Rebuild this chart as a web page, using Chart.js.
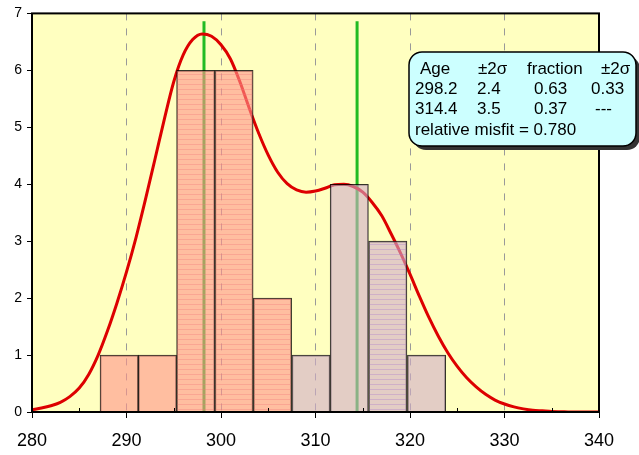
<!DOCTYPE html>
<html>
<head>
<meta charset="utf-8">
<script src="https://cdn.jsdelivr.net/npm/chart.js@4.4.0/dist/chart.umd.min.js"></script>
<style>
  html, body { margin: 0; padding: 0; background: #fff; }
  #wrap { width: 639px; height: 455px; }
</style>
</head>
<body>
<div id="wrap"><canvas id="myChart" width="639" height="455"></canvas></div>
<script>
// histogram bins (lower edges + last upper edge) and counts
var binEdges = [287.2, 291.25, 295.3, 299.35, 303.4, 307.5, 311.55, 315.6, 319.7, 323.8];
var binCounts = [1, 1, 6, 6, 2, 1, 4, 3, 1];
// which component each bar belongs to (0 = first, 1 = second)
var binGroup = [0, 0, 0, 0, 0, 1, 1, 1, 1];
var binHatched = [false, false, true, true, true, false, false, true, false];

// probability density curve
var curveX = [280,281,282,283,284,285,286,287,288,289,290,291,292,293,294,295,296,297,298,299,
              300,301,302,303,304,305,306,307,308,309,310,311,312,313,314,315,316,317,318,319,
              320,321,322,323,324,325,326,327,328,329,330,331,332,333,334,335,336,337,338,339,340];
var curveY = [0.04,0.07,0.11,0.17,0.27,0.42,0.66,1.0,1.43,1.92,2.46,3.06,3.73,4.43,5.14,5.8,6.27,6.54,6.64,6.6,
              6.45,6.2,5.8,5.33,4.89,4.51,4.21,4.01,3.9,3.86,3.88,3.93,3.99,4.0,3.96,3.86,3.68,3.45,3.13,2.79,
              2.42,2.03,1.66,1.33,1.04,0.8,0.6,0.44,0.31,0.21,0.14,0.09,0.055,0.03,0.02,0.01,0.005,0,0,0,0];

// peak ages (green lines)
var peakAges = [298.2, 314.4];
var peakLineTop = 6.86;

// table in the box
var tableHeader = ['Age', '\u00b12\u03c3', 'fraction', '\u00b12\u03c3'];
var tableRows = [
    ['298.2', '2.4', '0.63', '0.33'],
    ['314.4', '3.5', '0.37', '---']
];
var misfitText = 'relative misfit = 0.780';

var xTicks = [280, 290, 300, 310, 320, 330, 340];

function makePattern(base, line) {
    var c = document.createElement('canvas');
    c.width = 8; c.height = 5;
    var g = c.getContext('2d');
    g.fillStyle = base;
    g.fillRect(0, 0, 8, 5);
    if (line) {
        g.fillStyle = line;
        g.fillRect(0, 4, 8, 1);
    }
    return g.createPattern(c, 'repeat');
}

var barData = [];
var barColors = [];
for (var i = 0; i < binCounts.length; i++) {
    barData.push({x: (binEdges[i] + binEdges[i + 1]) / 2, y: binCounts[i]});
    if (binGroup[i] === 0) {
        barColors.push(makePattern('rgba(255,147,139,0.6)', binHatched[i] ? 'rgba(240,120,120,0.35)' : null));
    } else {
        barColors.push(makePattern('rgba(208,172,200,0.6)', binHatched[i] ? 'rgba(170,120,200,0.35)' : null));
    }
}

var curveData = curveX.map(function(x, k) { return {x: x, y: curveY[k]}; });

var peakSets = peakAges.map(function(a) {
    return {
        type: 'line',
        data: [{x: a, y: 0}, {x: a, y: peakLineTop}],
        borderColor: '#22bb22',
        borderWidth: 3,
        pointRadius: 0,
        order: 2
    };
});

var framePlugin = {
    id: 'frame',
    beforeDraw: function(chart) {
        var a = chart.chartArea, c = chart.ctx;
        c.save();
        c.fillStyle = '#ffffc0';
        c.fillRect(a.left, a.top, a.right - a.left, a.bottom - a.top);
        c.restore();
    },
    afterDraw: function(chart) {
        var a = chart.chartArea, c = chart.ctx;
        var xs = chart.scales.x;
        c.save();
        // minor ticks inside
        c.strokeStyle = '#000';
        c.lineWidth = 1;
        for (var v = 285; v < 340; v += 10) {
            var px = Math.round(xs.getPixelForValue(v)) + 0.5;
            c.beginPath();
            c.moveTo(px, a.bottom);
            c.lineTo(px, a.bottom - 4);
            c.stroke();
        }
        // frame
        c.lineWidth = 2;
        c.strokeRect(a.left, a.top, a.right - a.left, a.bottom - a.top);

        // info box
        var bx = 409, by = 52, bw = 227, bh = 94, r = 13;
        c.fillStyle = '#333';
        c.beginPath();
        c.roundRect(bx + 4, by + 4, bw, bh, r);
        c.fill();
        c.fillStyle = '#ccffff';
        c.strokeStyle = '#000';
        c.lineWidth = 1.5;
        c.beginPath();
        c.roundRect(bx, by, bw, bh, r);
        c.fill();
        c.stroke();

        c.fillStyle = '#000';
        c.font = '17px "Liberation Sans", Arial, sans-serif';
        c.textBaseline = 'middle';
        c.textAlign = 'left';
        var hx = [420, 478, 527, 601];
        var cx = [415, 477, 534, 591];
        tableHeader.forEach(function(t, k) { c.fillText(t, hx[k], 69); });
        tableRows.forEach(function(row, j) {
            row.forEach(function(t, k) {
                var x = cx[k];
                if (t === '---') x = 595;
                c.fillText(t, x, 89 + j * 20.5);
            });
        });
        c.fillText(misfitText, 415, 130);
        c.restore();
    }
};

var ctx = document.getElementById('myChart').getContext('2d');
var chart = new Chart(ctx, {
    type: 'line',
    data: {
        datasets: [{
            type: 'bar',
            data: barData,
            backgroundColor: barColors,
            borderColor: 'rgba(0,0,0,0.8)',
            borderWidth: 1,
            barPercentage: 1,
            categoryPercentage: 1,
            order: 0
        }, {
            type: 'line',
            data: curveData,
            borderColor: '#dd0000',
            borderWidth: 3,
            pointRadius: 0,
            cubicInterpolationMode: 'monotone',
            order: 1
        }].concat(peakSets)
    },
    options: {
        responsive: false,
        animation: false,
        events: [],
        layout: {padding: {top: 13, right: 40, left: 0, bottom: 0}},
        plugins: {legend: {display: false}, tooltip: {enabled: false}},
        scales: {
            x: {
                type: 'linear',
                min: 280,
                max: 340,
                offset: false,
                afterFit: function(s) { s.height = 43; },
                afterBuildTicks: function(s) { s.ticks = xTicks.map(function(v) { return {value: v}; }); },
                border: {display: false, dash: [7, 8]},
                grid: {
                    offset: false,
                    color: function(c) {
                        var v = c.tick && c.tick.value;
                        return (v === 280 || v === 340) ? 'rgba(0,0,0,0)' : '#999';
                    },
                    lineWidth: 1,
                    tickColor: '#000',
                    tickBorderDash: [],
                    tickLength: 6
                },
                ticks: {
                    color: '#000',
                    padding: 12,
                    maxRotation: 0,
                    font: {family: '"Liberation Sans", Arial, sans-serif', size: 18}
                }
            },
            y: {
                min: 0,
                max: 7,
                afterFit: function(s) { s.width = 32; },
                border: {display: false},
                grid: {
                    drawOnChartArea: false,
                    tickColor: '#000',
                    tickLength: 5
                },
                ticks: {
                    stepSize: 1,
                    color: '#000',
                    padding: 5,
                    font: {family: '"Liberation Sans", Arial, sans-serif', size: 14}
                }
            }
        }
    },
    plugins: [framePlugin]
});
</script>
</body>
</html>
